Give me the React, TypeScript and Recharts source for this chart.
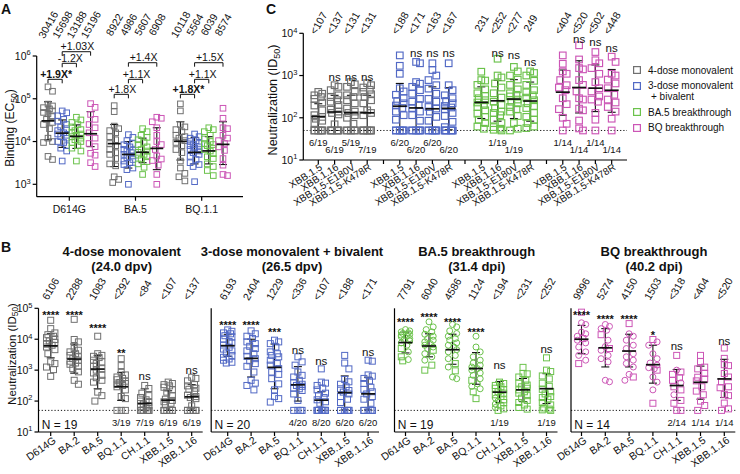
import React from "react";
import { ScatterChart, Scatter, XAxis, YAxis, ErrorBar, ReferenceLine, Legend } from "recharts";

const FONT = "'Liberation Sans', Arial, Helvetica, sans-serif";
const INK = "#111111";

// ---------------- shared ----------------
const cohortNames = ["4-dose monovalent", "3-dose monovalent", "BA.5 breakthrough", "BQ breakthrough"];
const cohortNameExtra = ["", "+ bivalent", "", ""];
const cohortColors = ["#707070", "#5269c5", "#6bc24b", "#cc56b6"];
const bTitles = ["4-dose monovalent", "3-dose monovalent + bivalent", "BA.5 breakthrough", "BQ breakthrough"];
const bSubtitles = ["(24.0 dpv)", "(26.5 dpv)", "(31.4 dpi)", "(40.2 dpi)"];
const bSizes = [19, 20, 19, 14];
const bVariants = ["D614G", "BA.2", "BA.5", "BQ.1.1", "CH.1.1", "XBB.1.5", "XBB.1.16"];
const cVariants = ["XBB.1.5", "XBB.1.16", "XBB.1.5-E180V", "XBB.1.5-K478R"];
const LOD = 50;

// ---------------- Panel A ----------------
const aVariants = ["D614G", "BA.5", "BQ.1.1"];
const aGmtMono4 = [30416, 8922, 10118];
const aGmtBiv = [15698, 4986, 5564];
const aGmtBA5 = [13188, 5607, 6039];
const aGmtBQ = [15196, 6908, 8574];
const aLoMono4 = [11000, 2600, 3700];
const aHiMono4 = [85000, 25000, 29000];
const aLoBiv = [7300, 2400, 3000];
const aHiBiv = [32000, 10000, 12500];
const aLoBA5 = [6900, 3200, 3000];
const aHiBA5 = [24500, 12000, 13000];
const aLoBQ = [7600, 2200, 2900];
const aHiBQ = [50000, 21000, 29000];
const aPtsMono4 = [
  [190000, 150000, 75000, 68000, 62000, 58000, 52000, 48000, 45000, 40000, 33000, 28000, 25000, 20000, 12000, 10000, 9500, 4500, 3800],
  [69000, 50000, 23000, 20000, 18000, 16000, 13000, 11000, 9000, 8000, 6500, 5500, 5000, 4000, 3000, 2700, 1500, 1300, 1100],
  [76000, 52000, 25000, 22000, 19000, 17000, 14000, 13000, 12000, 10500, 9500, 8000, 6500, 5500, 3500, 2400, 1800, 1500, 1200],
];
const aPtsBiv = [
  [52000, 47000, 40000, 33000, 30000, 25000, 22000, 20000, 18000, 16000, 15000, 14000, 13000, 12000, 10000, 9500, 8000, 7000, 6000, 3500],
  [14500, 12500, 10500, 9000, 8400, 7500, 6600, 6200, 6000, 5500, 5000, 4600, 4200, 3800, 3500, 3200, 2900, 2400, 2200, 1000],
  [15000, 13000, 12000, 10500, 10000, 9000, 8500, 8000, 7500, 7000, 6500, 6000, 5500, 5000, 4500, 3800, 3200, 2900, 2600, 1150],
];
const aPtsBA5 = [
  [37000, 32000, 28000, 25000, 22000, 19000, 18000, 16000, 15000, 14000, 13000, 12000, 11000, 10000, 9500, 8000, 7000, 6000, 3500],
  [20000, 17000, 14000, 12500, 11000, 9500, 8500, 7500, 6500, 6000, 5600, 5000, 4800, 4400, 3900, 3400, 3000, 2500, 1700],
  [21000, 19000, 17000, 14000, 11500, 10000, 9000, 8500, 8000, 7000, 6500, 6000, 5200, 4400, 4000, 3000, 2600, 2100, 1600],
];
const aPtsBQ = [
  [77000, 63000, 43000, 33000, 25000, 21000, 16000, 12000, 9000, 7600, 5300, 4800, 3200, 2600],
  [37000, 35000, 29000, 21000, 14000, 10000, 8500, 6500, 4600, 3900, 3600, 2800, 1700, 1000],
  [60000, 35000, 21000, 20000, 14000, 12000, 10500, 9000, 7500, 6200, 4000, 2800, 1700, 1600],
];
const aBracketGroup = [0, 0, 0, 1, 1, 1, 2, 2, 2];
const aBracketFrom = [0, 1, 1, 0, 1, 1, 0, 1, 1];
const aBracketTo = [1, 2, 3, 1, 2, 3, 1, 2, 3];
const aBracketLevel = [285000, 675000, 1260000, 127000, 285000, 697000, 127000, 285000, 697000];
const aBracketText = ["+1.9X*", "-1.2X", "+1.03X", "+1.8X", "+1.1X", "+1.4X", "+1.8X*", "+1.1X", "+1.5X"];
const aBracketBold = [true, false, false, false, false, false, true, false, false];

// ---------------- Panels B / C : 4-dose monovalent ----------------
const m4D614G = [41000, 22000, 16000, 14000, 12500, 11300, 9800, 8800, 7800, 6900, 6400, 5600, 4600, 3400, 1850, 1630, 1260, 1040, 630];
const m4BA2 = [44000, 9800, 8200, 5000, 4400, 3900, 3400, 3000, 2700, 2350, 2100, 1950, 1700, 1550, 1330, 1120, 880, 470, 350];
const m4BA5 = [12500, 3400, 3000, 2800, 2550, 2100, 1850, 1630, 1330, 1120, 1000, 810, 680, 570, 470, 410, 195, 150, 100];
const m4BQ11 = [2350, 1400, 850, 700, 600, 540, 490, 440, 400, 370, 350, 320, 290, 230, 140, 120, 50, 50, 50];
const m4CH11 = [320, 255, 180, 150, 130, 110, 100, 90, 80, 70, 65, 60, 50, 50, 50, 50, 50, 50, 50];
const m4XBB15 = [410, 370, 340, 310, 280, 230, 195, 150, 115, 105, 95, 85, 75, 50, 50, 50, 50, 50, 50];
const m4XBB116 = [590, 540, 450, 340, 310, 260, 240, 200, 155, 140, 130, 120, 70, 50, 50, 50, 50, 50, 50];
const m4E180V = [700, 620, 540, 410, 340, 310, 260, 220, 165, 140, 130, 115, 100, 72, 50, 50, 50, 50, 50];
const m4K478R = [660, 590, 520, 460, 410, 360, 310, 260, 220, 150, 130, 115, 50, 50, 50, 50, 50, 50, 50];
const m4Labels = ["6106", "2288", "1083", "<292", "<84", "<107", "<137"];
const m4Lo = [2500, 800, 250, 105, 50, 50, 50];
const m4Hi = [15000, 7000, 3000, 850, 250, 215, 340];
const m4Sig = ["****", "****", "****", "**", "ns", "", "ns"];
const m4SigAt = [72000, 72000, 27000, 4300, 620, 0, 950];
const m4Frac = ["", "", "", "3/19", "7/19", "6/19", "6/19"];
const m4CLabels = ["<107", "<137", "<131", "<131"];
const m4CLo = [50, 50, 50, 50];
const m4CHi = [215, 340, 340, 340];
const m4CSig = ["", "ns", "ns", "ns"];
const m4CSigAt = [0, 890, 890, 890];
const m4CFrac = ["6/19", "6/19", "5/19", "7/19"];
const m4CFracAt = [26, 17.6, 26, 17.6];

// ---------------- 3-dose monovalent + bivalent ----------------
const bvD614G = [20000, 18000, 16000, 15000, 13000, 12000, 10000, 8500, 7500, 6500, 5500, 4800, 4200, 3600, 3000, 2600, 2300, 2100, 1800, 1700];
const bvBA2 = [18600, 15000, 12500, 10500, 8200, 7200, 5900, 5000, 4200, 3400, 2800, 2350, 2000, 1630, 1330, 870, 470, 380, 320, 230];
const bvBA5 = [9300, 8200, 7200, 5600, 3900, 3400, 3000, 2700, 2100, 1630, 1450, 1120, 870, 730, 530, 360, 230, 140, 120, 93];
const bvBQ11 = [2700, 1850, 1450, 870, 680, 600, 470, 400, 350, 320, 300, 260, 250, 220, 170, 105, 50, 50, 50, 50];
const bvCH11 = [1100, 410, 380, 320, 260, 230, 180, 150, 130, 110, 95, 85, 50, 50, 50, 50, 50, 50, 50, 50];
const bvXBB15 = [3000, 1700, 1100, 500, 420, 350, 290, 250, 220, 195, 170, 140, 115, 90, 50, 50, 50, 50, 50, 50];
const bvXBB116 = [2100, 1950, 700, 640, 540, 450, 370, 280, 240, 200, 170, 140, 115, 85, 50, 50, 50, 50, 50, 50];
const bvE180V = [1950, 1350, 1000, 780, 590, 490, 370, 280, 240, 180, 165, 140, 105, 85, 50, 50, 50, 50, 50, 50];
const bvK478R = [1950, 590, 450, 340, 290, 250, 220, 190, 175, 160, 130, 110, 80, 60, 50, 50, 50, 50, 50, 50];
const bvLabels = ["6193", "2404", "1229", "<336", "<107", "<188", "<171"];
const bvLo = [2800, 600, 250, 100, 50, 52, 52];
const bvHi = [14000, 10000, 7000, 1300, 200, 650, 590];
const bvSig = ["****", "****", "***", "ns", "ns", "", "ns"];
const bvSigAt = [34000, 34000, 21000, 4500, 1950, 0, 3700];
const bvFrac = ["", "", "", "4/20", "8/20", "6/20", "6/20"];
const bvCLabels = ["<188", "<171", "<163", "<167"];
const bvCLo = [52, 52, 52, 52];
const bvCHi = [650, 590, 540, 515];
const bvCSig = ["", "ns", "ns", "ns"];
const bvCSigAt = [0, 3340, 3340, 3340];
const bvCFrac = ["6/20", "6/20", "6/20", "6/20"];
const bvCFracAt = [26, 17.6, 26, 17.6];

// ---------------- BA.5 breakthrough ----------------
const b5D614Gci = [20500, 18600, 17300, 16100, 15300, 14200, 13500, 12500, 11900, 10500, 9750, 8830, 7600, 6400, 3900, 2200];
const b5D614Gsq = [5000, 2700, 2000];
const b5BA2ci = [36500, 25000, 20500, 17300, 14500, 12500, 10500, 9300, 8200, 7200, 6400, 5600, 5000, 3400, 2700, 2100];
const b5BA2sq = [4400, 1450, 1000];
const b5BA5ci = [30000, 25000, 18600, 15300, 12500, 10500, 9300, 7600, 6400, 5600, 4600, 3900, 3000, 2350, 1260, 600, 530];
const b5BA5sq = [1630, 950];
const b5BQ11ci = [12500, 5600, 3900, 2700, 2100, 1700, 1450, 1260, 1120, 1000, 810, 680, 530, 360, 300, 250];
const b5BQ11sq = [470, 200, 120];
const b5CH11sq = [410, 370, 320, 290, 260, 230, 200, 180, 160, 140, 110, 90, 70, 56, 50];
const b5CH11ci = [125, 100, 80, 62];
const b5XBB15 = [1230, 780, 760, 600, 470, 380, 330, 290, 260, 230, 200, 180, 150, 125, 105, 90, 75, 62, 55];
const b5XBB116 = [2500, 1000, 900, 650, 520, 380, 300, 240, 200, 170, 140, 130, 115, 90, 75, 60, 55, 52, 50];
const b5E180V = [1600, 1250, 1000, 800, 600, 470, 380, 350, 320, 270, 240, 220, 180, 160, 140, 110, 75, 55, 50];
const b5K478R = [1250, 1150, 1000, 750, 600, 450, 400, 340, 300, 260, 220, 190, 170, 130, 105, 90, 75, 62, 57];
const b5Labels = ["7791", "6040", "4586", "1124", "<194", "<231", "<252"];
const b5Lo = [3600, 2700, 1550, 350, 90, 96, 83];
const b5Hi = [17000, 15000, 14500, 3700, 430, 540, 770];
const b5Sig = ["****", "****", "****", "****", "ns", "", "ns"];
const b5SigAt = [42000, 60000, 42000, 20000, 1380, 0, 4700];
const b5Frac = ["", "", "", "", "1/19", "", "1/19"];
const b5CLabels = ["231", "<252", "<277", "249"];
const b5CLo = [96, 83, 96, 83];
const b5CHi = [540, 770, 800, 700];
const b5CSig = ["", "ns", "ns", "ns"];
const b5CSigAt = [0, 3340, 3040, 2100];
const b5CFrac = ["", "1/19", "1/19", ""];
const b5CFracAt = [0, 26, 17.6, 0];

// ---------------- BQ breakthrough ----------------
const bqD614Gci = [34000, 30000, 17000, 15000, 12500, 9300, 7600, 5600, 3900, 3000, 2100];
const bqD614Gsq = [75000, 10500, 1630];
const bqBA2ci = [30000, 26000, 22000, 19500, 9300, 5800, 4400, 3000, 2350, 1850, 470, 420];
const bqBA2sq = [14000, 5000];
const bqBA5ci = [15000, 12500, 9300, 6400, 5000, 3400, 2700, 2100, 1650, 1260, 730, 470];
const bqBA5sq = [32000, 600];
const bqBQ11ci = [8200, 6400, 3400, 2350, 1700, 1450, 1200, 1100, 600, 410, 230];
const bqBQ11sq = [9800, 1000, 85];
const bqCH11sq = [3000, 870, 730, 570, 470, 290, 230, 105, 85, 50, 50];
const bqCH11ci = [1000, 390, 160];
const bqXBB15 = [3000, 1900, 1250, 1100, 780, 590, 520, 450, 290, 210, 160, 100, 72, 50];
const bqXBB116 = [5200, 2400, 1500, 1400, 780, 600, 420, 290, 270, 165, 150, 86, 56, 50];
const bqE180V = [3600, 2300, 1950, 1500, 1100, 700, 500, 420, 320, 270, 240, 130, 90, 50];
const bqK478R = [2800, 2100, 1100, 1000, 800, 650, 500, 350, 270, 230, 180, 140, 95, 50];
const bqLabels = ["9996", "5274", "4150", "1503", "<318", "<404", "<520"];
const bqLo = [3400, 1270, 1270, 380, 105, 115, 130];
const bqHi = [28000, 22000, 14500, 6400, 1050, 1350, 2240];
const bqSig = ["****", "****", "****", "*", "ns", "", "ns"];
const bqSigAt = [72000, 53000, 53000, 16700, 6000, 0, 8300];
const bqFrac = ["", "", "", "", "2/14", "1/14", "1/14"];
const bqCLabels = ["<404", "<520", "<502", "<448"];
const bqCLo = [115, 130, 140, 135];
const bqCHi = [1350, 2240, 1780, 1390];
const bqCSig = ["", "ns", "ns", "ns"];
const bqCSigAt = [0, 7200, 6000, 4400];
const bqCFrac = ["1/14", "1/14", "1/14", "1/14"];
const bqCFracAt = [26, 17.6, 26, 17.6];

// ---------------- grouping tables built from the arrays ----------------
const bSq = [
  [m4D614G, m4BA2, m4BA5, m4BQ11, m4CH11, m4XBB15, m4XBB116],
  [bvD614G, bvBA2, bvBA5, bvBQ11, bvCH11, bvXBB15, bvXBB116],
  [b5D614Gsq, b5BA2sq, b5BA5sq, b5BQ11sq, b5CH11sq, b5XBB15, b5XBB116],
  [bqD614Gsq, bqBA2sq, bqBA5sq, bqBQ11sq, bqCH11sq, bqXBB15, bqXBB116],
];
const bCi = [
  [[], [], [], [], [], [], []],
  [[], [], [], [], [], [], []],
  [b5D614Gci, b5BA2ci, b5BA5ci, b5BQ11ci, b5CH11ci, [], []],
  [bqD614Gci, bqBA2ci, bqBA5ci, bqBQ11ci, bqCH11ci, [], []],
];
const bLabels = [m4Labels, bvLabels, b5Labels, bqLabels];
const bLo = [m4Lo, bvLo, b5Lo, bqLo];
const bHi = [m4Hi, bvHi, b5Hi, bqHi];
const bSig = [m4Sig, bvSig, b5Sig, bqSig];
const bSigAt = [m4SigAt, bvSigAt, b5SigAt, bqSigAt];
const bFrac = [m4Frac, bvFrac, b5Frac, bqFrac];

const cPts = [
  [m4XBB15, m4XBB116, m4E180V, m4K478R],
  [bvXBB15, bvXBB116, bvE180V, bvK478R],
  [b5XBB15, b5XBB116, b5E180V, b5K478R],
  [bqXBB15, bqXBB116, bqE180V, bqK478R],
];
const cLabels = [m4CLabels, bvCLabels, b5CLabels, bqCLabels];
const cLo = [m4CLo, bvCLo, b5CLo, bqCLo];
const cHi = [m4CHi, bvCHi, b5CHi, bqCHi];
const cSig = [m4CSig, bvCSig, b5CSig, bqCSig];
const cSigAt = [m4CSigAt, bvCSigAt, b5CSigAt, bqCSigAt];
const cFrac = [m4CFrac, bvCFrac, b5CFrac, bqCFrac];
const cFracAt = [m4CFracAt, bvCFracAt, b5CFracAt, bqCFracAt];

const num = (s: string) => Number(s.replace("<", ""));

// ---------------- drawing helpers ----------------
const axisStyle = { stroke: "#000", strokeWidth: 1.2 };

type ColSpec = { x: number; sq: number[]; ci: number[]; gmt: number; lo: number; hi: number; color: string };
type Look = { pxPerDec: number; pxPerUnit: number; size: number; maxOff: number; step: number; meanHalf: number; whisker: number; sw: number };

function swarm(vals: number[], pxPerDec: number, size: number, maxOff: number, step: number): number[] {
  const order = vals.map((_, i) => i).sort((a, b) => vals[b] - vals[a]);
  const cands: number[] = [0];
  for (let k = 1; k * step <= maxOff + 1e-9; k++) cands.push(k * step, -k * step);
  const placed: { x: number; y: number }[] = [];
  const out = new Array(vals.length).fill(0);
  for (const i of order) {
    const y = Math.log10(vals[i]) * pxPerDec;
    let best = 0;
    let bestScore = Infinity;
    for (const c of cands) {
      let s = Math.abs(c) * 0.05;
      for (const p of placed) {
        const dx = Math.abs(p.x - c);
        const dy = Math.abs(p.y - y);
        if (dx < size && dy < size) s += (size - dx) * (size - dy);
      }
      if (s < bestScore - 1e-9) {
        bestScore = s;
        best = c;
      }
    }
    placed.push({ x: best, y });
    out[i] = best;
  }
  return out;
}

const squareShape = (color: string, size: number, sw: number) => (p: any) =>
  p.cx == null ? <g /> : <rect x={p.cx - size / 2} y={p.cy - size / 2} width={size} height={size} fill="none" stroke={color} strokeWidth={sw} />;
const circleShape = (color: string, size: number, sw: number) => (p: any) =>
  p.cx == null ? <g /> : <circle cx={p.cx} cy={p.cy} r={size / 2} fill="none" stroke={color} strokeWidth={sw} />;
const meanShape = (half: number) => (p: any) =>
  p.cx == null ? <g /> : <line x1={p.cx - half} x2={p.cx + half} y1={p.cy} y2={p.cy} stroke={INK} strokeWidth={1.7} />;
const textShape = (p: any) => {
  const d = p.payload;
  if (!d || p.cx == null) return <g />;
  return (
    <text x={p.cx} y={p.cy} dy={d.dy} textAnchor={d.anchor} fontSize={d.fs} fontWeight={d.fw} fontFamily={FONT} fill={INK}>
      {d.text}
    </text>
  );
};

function buildSeries(cols: ColSpec[], look: Look, prefix: string) {
  const sqBy: Record<string, { x: number; y: number }[]> = {};
  const ciBy: Record<string, { x: number; y: number }[]> = {};
  const means: any[] = [];
  cols.forEach((c) => {
    const vals = [...c.sq, ...c.ci];
    const offs = swarm(vals, look.pxPerDec, look.size, look.maxOff, look.step);
    vals.forEach((v, i) => {
      const pt = { x: c.x + offs[i] / look.pxPerUnit, y: v };
      const bucket = i < c.sq.length ? sqBy : ciBy;
      (bucket[c.color] = bucket[c.color] || []).push(pt);
    });
    means.push({ x: c.x, y: c.gmt, err: [c.gmt - c.lo, c.hi - c.gmt] });
  });
  const out: any[] = [];
  Object.keys(sqBy).forEach((color) =>
    out.push(<Scatter key={`${prefix}s${color}`} data={sqBy[color]} isAnimationActive={false} shape={squareShape(color, look.size, look.sw)} />)
  );
  Object.keys(ciBy).forEach((color) =>
    out.push(<Scatter key={`${prefix}c${color}`} data={ciBy[color]} isAnimationActive={false} shape={circleShape(color, look.size, look.sw)} />)
  );
  out.push(
    <Scatter key={`${prefix}m`} data={means} isAnimationActive={false} shape={meanShape(look.meanHalf)}>
      <ErrorBar dataKey="err" direction="y" width={look.whisker} stroke={INK} strokeWidth={1.1} isAnimationActive={false} />
    </Scatter>
  );
  return out;
}

function PowTick(p: any) {
  const e = Math.round(Math.log10(p.payload.value));
  return (
    <text x={p.x} y={p.y} dy={3.8} textAnchor="end" fontSize={10.5} fontFamily={FONT} fill={INK}>
      10
      <tspan dy={-4.5} fontSize={7.5}>
        {e}
      </tspan>
    </text>
  );
}

const findIdx = (ticks: number[], v: number) => ticks.findIndex((t) => Math.abs(t - v) < 1e-6);

const topTick = (ticks: number[], labels: string[], cy: number, angle: number, fs: number) => (p: any) => {
  const t = labels[findIdx(ticks, p.payload.value)];
  if (!t) return <g />;
  return (
    <text x={p.x} y={cy} transform={`rotate(${angle} ${p.x} ${cy})`} textAnchor="middle" dominantBaseline="central" fontSize={fs} fontFamily={FONT} fill={INK}>
      {t}
    </text>
  );
};

const rotTick = (ticks: number[], labels: string[], angle: number, fs: number, dx: number, dy: number) => (p: any) => {
  const t = labels[findIdx(ticks, p.payload.value)];
  if (!t) return <g />;
  const ax = p.x + dx;
  const ay = p.y + dy;
  return (
    <text x={ax} y={ay} transform={`rotate(${angle} ${ax} ${ay})`} textAnchor="end" fontSize={fs} fontFamily={FONT} fill={INK}>
      {t}
    </text>
  );
};

const YLab = ({ cx, cy, main, sub, fs }: any) => (
  <text transform={`translate(${cx},${cy}) rotate(-90)`} textAnchor="middle" dominantBaseline="central" fontSize={fs} fontFamily={FONT} fill={INK}>
    {main}
    <tspan fontSize={fs * 0.72} dy={fs * 0.3}>
      {sub}
    </tspan>
    <tspan dy={-fs * 0.3}>)</tspan>
  </text>
);

const BracketLabel = ({ viewBox, text, bold }: any) =>
  viewBox ? (
    <text x={viewBox.x + viewBox.width / 2 + 1} y={viewBox.y - 1.5} textAnchor="middle" fontSize={10.5} fontWeight={bold ? "bold" : "normal"} fontFamily={FONT} fill={INK}>
      {text}
    </text>
  ) : (
    <g />
  );

const sigText = (x: number, y: number, s: string) =>
  s.startsWith("*")
    ? { x, y, text: s, dy: 6.3, anchor: "middle", fs: 11, fw: "bold" }
    : { x, y, text: s, dy: 3.6, anchor: "middle", fs: 11.5, fw: "normal" };

// ---------------- Panel A ----------------
const A_STEP = 0.2145;
const A_DOM: [number, number] = [-0.4924, 2.624];

function PanelA() {
  const pts = [aPtsMono4, aPtsBiv, aPtsBA5, aPtsBQ];
  const gmts = [aGmtMono4, aGmtBiv, aGmtBA5, aGmtBQ];
  const los = [aLoMono4, aLoBiv, aLoBA5, aLoBQ];
  const his = [aHiMono4, aHiBiv, aHiBA5, aHiBQ];
  const colX = (g: number, s: number) => g + (s - 1.5) * A_STEP;
  const cols: ColSpec[] = [];
  aVariants.forEach((_, g) =>
    pts.forEach((p, s) => cols.push({ x: colX(g, s), sq: p[g], ci: [], gmt: gmts[s][g], lo: los[s][g], hi: his[s][g], color: cohortColors[s] }))
  );
  const topTicks = cols.map((c) => c.x);
  const topLabels = cols.map((c) => String(c.gmt));
  const look: Look = { pxPerDec: 42.77, pxPerUnit: 66.2, size: 5.6, maxOff: 4.5, step: 1.5, meanHalf: 6.5, whisker: 4, sw: 1 };
  const bottomTicks = aVariants.map((_, i) => i);
  return (
    <div style={{ position: "absolute", left: 0, top: 0 }}>
      <ScatterChart width={250} height={232} margin={{ top: 26, right: 7, bottom: 10.3, left: 0 }}>
        <XAxis
          type="number"
          dataKey="x"
          domain={A_DOM}
          ticks={bottomTicks}
          interval={0}
          tickFormatter={(v: number) => aVariants[Math.round(v)]}
          tickSize={4}
          tickMargin={5}
          height={25}
          axisLine={axisStyle}
          tickLine={axisStyle}
          tick={{ fontSize: 10.5, fill: INK, fontFamily: FONT }}
        />
        <XAxis
          xAxisId="top"
          orientation="top"
          type="number"
          dataKey="x"
          domain={A_DOM}
          allowDataOverflow
          ticks={topTicks}
          interval={0}
          height={30}
          axisLine={false}
          tickLine={false}
          tick={topTick(topTicks, topLabels, 24.5, -60, 10.5)}
        />
        <YAxis
          type="number"
          dataKey="y"
          scale="log"
          domain={[513, 1000000]}
          ticks={[1000, 10000, 100000, 1000000]}
          interval={0}
          width={36.7}
          tickSize={4}
          axisLine={axisStyle}
          tickLine={axisStyle}
          tick={PowTick}
          label={<YLab cx={10} cy={128} main="Binding (EC" sub="50" fs={12} />}
        />
        {buildSeries(cols, look, "a")}
        {aBracketText.map((t, i) => {
          const x1 = colX(aBracketGroup[i], aBracketFrom[i]);
          const x2 = colX(aBracketGroup[i], aBracketTo[i]);
          const lv = aBracketLevel[i];
          const foot = lv / 1.24;
          return [
            <ReferenceLine key={`bh${i}`} segment={[{ x: x1, y: lv }, { x: x2, y: lv }]} stroke={INK} strokeWidth={1} ifOverflow="visible" label={<BracketLabel text={t} bold={aBracketBold[i]} />} />,
            <ReferenceLine key={`bl${i}`} segment={[{ x: x1, y: lv }, { x: x1, y: foot }]} stroke={INK} strokeWidth={1} ifOverflow="visible" />,
            <ReferenceLine key={`br${i}`} segment={[{ x: x2, y: lv }, { x: x2, y: foot }]} stroke={INK} strokeWidth={1} ifOverflow="visible" />,
          ];
        })}
      </ScatterChart>
    </div>
  );
}

// ---------------- Panel B ----------------
const bAxisX = [38.5, 211.2, 394.5, 571];
const bSvgLeft = [0, 176, 360, 538];
const bPlotW = [164.2, 167.8, 163, 164.3];
const bPadL = [12.2, 16.5, 11, 10.5];
const bSpacing = [23.5, 23.4, 23.5, 23.8];
const bTitleX = [121.7, 292, 476.7, 654];
const B_FRAC_Y = 20.2;
const B_N_Y = 16.5;

function PanelB({ k }: { k: number }) {
  const sp = bSpacing[k];
  const dom: [number, number] = [-bPadL[k] / sp, (bPlotW[k] - bPadL[k]) / sp];
  const yw = bAxisX[k] - bSvgLeft[k];
  const svgW = yw + bPlotW[k] + 3;
  const ticks = bVariants.map((_, i) => i);
  const cols: ColSpec[] = bVariants.map((_, v) => ({
    x: v,
    sq: bSq[k][v],
    ci: bCi[k][v],
    gmt: num(bLabels[k][v]),
    lo: bLo[k][v],
    hi: bHi[k][v],
    color: cohortColors[k],
  }));
  const texts: any[] = [];
  bVariants.forEach((_, v) => {
    if (bSig[k][v]) texts.push(sigText(v, bSigAt[k][v], bSig[k][v]));
    if (bFrac[k][v]) texts.push({ x: v, y: B_FRAC_Y, text: bFrac[k][v], dy: 3.5, anchor: "middle", fs: 9.5, fw: "normal" });
  });
  texts.push({ x: dom[0] + 3.2 / sp, y: B_N_Y, text: `N = ${bSizes[k]}`, dy: 4.2, anchor: "start", fs: 12, fw: "normal" });
  const look: Look = { pxPerDec: 30.9, pxPerUnit: sp, size: 6, maxOff: 5.5, step: 1.4, meanHalf: 7, whisker: 4, sw: 1 };
  return (
    <div style={{ position: "absolute", left: bSvgLeft[k], top: 240 }}>
      <ScatterChart width={svgW} height={234} margin={{ top: 40.3, right: 3, bottom: 2, left: 0 }}>
        <XAxis
          type="number"
          dataKey="x"
          domain={dom}
          ticks={ticks}
          interval={0}
          tickSize={4}
          tickMargin={2}
          height={40}
          axisLine={axisStyle}
          tickLine={axisStyle}
          tick={rotTick(ticks, bVariants, -35, 10.5, 6, 4)}
        />
        <XAxis
          xAxisId="top"
          orientation="top"
          type="number"
          dataKey="x"
          domain={dom}
          allowDataOverflow
          ticks={ticks}
          interval={0}
          height={28}
          axisLine={false}
          tickLine={false}
          tick={topTick(ticks, bLabels[k], 49, -60, 10.5)}
        />
        <YAxis
          type="number"
          dataKey="y"
          scale="log"
          domain={[10, 100000]}
          ticks={[10, 100, 1000, 10000, 100000]}
          interval={0}
          width={yw}
          tickSize={4}
          axisLine={axisStyle}
          tickLine={axisStyle}
          tick={k === 0 ? PowTick : false}
          label={k === 0 ? <YLab cx={12} cy={114} main="Neutralization (ID" sub="50" fs={11.5} /> : undefined}
        />
        <ReferenceLine y={LOD} stroke={INK} strokeWidth={1} strokeDasharray="1.2 2" />
        {buildSeries(cols, look, `b${k}`)}
        <Scatter data={texts} isAnimationActive={false} shape={textShape} />
      </ScatterChart>
    </div>
  );
}

// ---------------- Panel C ----------------
const C_DOM: [number, number] = [-0.92, 18.94];
const C_SP = 16.3;

const LegendBox = () => (
  <div style={{ fontFamily: FONT, fontSize: 10, color: INK }}>
    {cohortNames.map((n, i) => (
      <div key={n} style={{ position: "relative", paddingLeft: 15, lineHeight: "11px", marginBottom: 4.5 }}>
        <svg width={8} height={8} style={{ position: "absolute", left: 0, top: 1.5 }}>
          <rect x={0.6} y={0.6} width={6.8} height={6.8} fill="none" stroke={cohortColors[i]} strokeWidth={1.2} />
        </svg>
        {n}
        {cohortNameExtra[i] ? (
          <>
            <br />
            <span style={{ paddingLeft: 3 }}>{cohortNameExtra[i]}</span>
          </>
        ) : null}
      </div>
    ))}
  </div>
);

function PanelC() {
  const cols: ColSpec[] = [];
  const texts: any[] = [];
  const topTicks: number[] = [];
  const topLabels: string[] = [];
  cohortNames.forEach((_, s) =>
    cVariants.forEach((_, j) => {
      const x = s * 5 + j;
      cols.push({ x, sq: cPts[s][j], ci: [], gmt: num(cLabels[s][j]), lo: cLo[s][j], hi: cHi[s][j], color: cohortColors[s] });
      topTicks.push(x);
      topLabels.push(cLabels[s][j]);
      if (cSig[s][j]) texts.push(sigText(x, cSigAt[s][j], cSig[s][j]));
      if (cFrac[s][j]) texts.push({ x, y: cFracAt[s][j], text: cFrac[s][j], dy: 3.5, anchor: "middle", fs: 9.5, fw: "normal" });
    })
  );
  const bottomTicks = Array.from({ length: 19 }, (_, i) => i);
  const bottomLabels = bottomTicks.map((i) => (i % 5 === 4 ? "" : cVariants[i % 5]));
  const look: Look = { pxPerDec: 42.2, pxPerUnit: C_SP, size: 6.6, maxOff: 4, step: 1.3, meanHalf: 7, whisker: 4, sw: 1.15 };
  return (
    <div style={{ position: "absolute", left: 250, top: 0 }}>
      <ScatterChart width={490} height={235} margin={{ top: 13.3, right: 113, bottom: 5, left: 0 }}>
        <XAxis
          type="number"
          dataKey="x"
          domain={C_DOM}
          ticks={bottomTicks}
          interval={0}
          tickSize={4}
          tickMargin={2}
          height={70}
          axisLine={axisStyle}
          tickLine={axisStyle}
          tick={rotTick(bottomTicks, bottomLabels, -32, 10, 4.7, 3)}
        />
        <XAxis
          xAxisId="top"
          orientation="top"
          type="number"
          dataKey="x"
          domain={C_DOM}
          allowDataOverflow
          ticks={topTicks}
          interval={0}
          height={20}
          axisLine={false}
          tickLine={false}
          tick={topTick(topTicks, topLabels, 23, -60, 10.5)}
        />
        <YAxis
          type="number"
          dataKey="y"
          scale="log"
          domain={[10, 10000]}
          ticks={[10, 100, 1000, 10000]}
          interval={0}
          width={53.3}
          tickSize={4}
          axisLine={axisStyle}
          tickLine={axisStyle}
          tick={PowTick}
          label={<YLab cx={23.3} cy={100} main="Neutralization (ID" sub="50" fs={12.5} />}
        />
        <ReferenceLine y={LOD} stroke={INK} strokeWidth={1} strokeDasharray="1.2 2" />
        {buildSeries(cols, look, "c")}
        <Scatter data={texts} isAnimationActive={false} shape={textShape} />
        <Legend layout="vertical" align="center" verticalAlign="middle" wrapperStyle={{ left: 383, top: 64.5, width: 110 }} content={() => <LegendBox />} />
      </ScatterChart>
    </div>
  );
}

export default function App() {
  const letter = (t: string, left: number, top: number) => (
    <div style={{ position: "absolute", left, top, fontSize: 14, fontWeight: "bold", lineHeight: "16px", fontFamily: FONT }}>{t}</div>
  );
  return (
    <div style={{ position: "absolute", left: 0, top: 0, width: 740, height: 474, background: "#fff", fontFamily: FONT, color: INK, overflow: "hidden" }}>
      <PanelA />
      <PanelC />
      {bTitles.map((_, k) => (
        <PanelB key={k} k={k} />
      ))}
      {bTitles.map((t, k) => (
        <div
          key={`t${k}`}
          style={{ position: "absolute", left: bTitleX[k] - 110, top: 244.2, width: 220, textAlign: "center", fontSize: 13, fontWeight: "bold", lineHeight: "15px", fontFamily: FONT }}
        >
          {t}
          <br />
          {bSubtitles[k]}
        </div>
      ))}
      {letter("A", 1, 1)}
      {letter("B", 1, 239)}
      {letter("C", 266, 1)}
    </div>
  );
}
